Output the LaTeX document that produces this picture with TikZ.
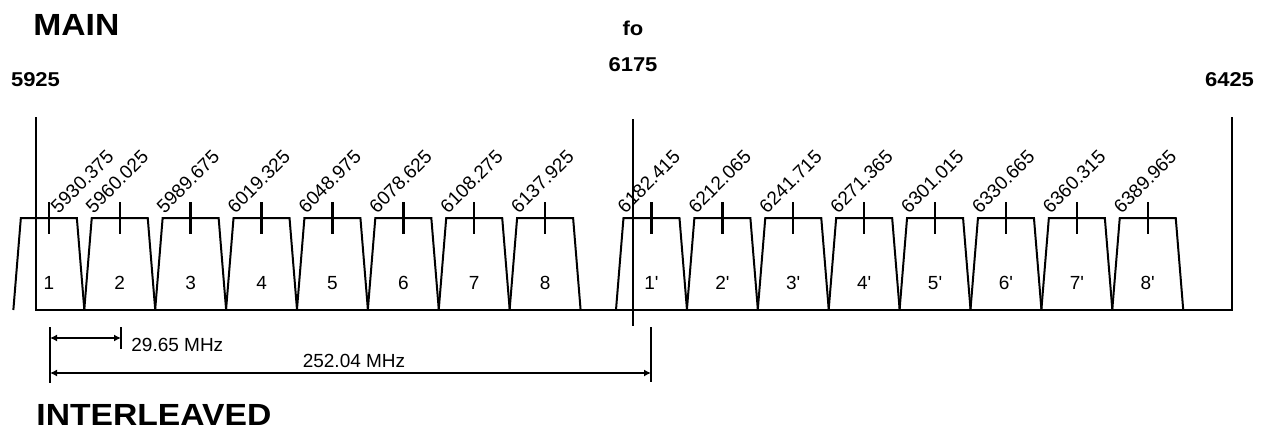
\documentclass[tikz,border=0pt]{standalone}
\usepackage{fontspec}
\setmainfont{Liberation Sans}
\newfontfamily\titlefont{Liberation Sans}[FakeStretch=1.1]
\usetikzlibrary{arrows.meta}

\begin{document}
\begin{tikzpicture}[x=0.5pt,y=-0.5pt,
  frame/.style={line width=1.3pt},
  chan/.style={line width=1pt, line join=miter},
  tick/.style={line width=1.2pt},
  dim/.style={line width=1.2pt, {Latex[length=3.5pt,width=3.5pt]}-{Latex[length=3.5pt,width=3.5pt]}},
  num/.style={font=\fontsize{9.5}{11}\selectfont, anchor=base, inner sep=0pt},
  freq/.style={font=\fontsize{9.5}{11}\selectfont, rotate=45, anchor=south west, inner sep=0pt},
  band/.style={font=\titlefont\bfseries\fontsize{10}{12}\selectfont, anchor=base, inner sep=0pt},
  title/.style={font=\titlefont\bfseries\fontsize{15.3}{18}\selectfont, anchor=base west, inner sep=0pt}]
\useasboundingbox (0,0) rectangle (1267,428);

% titles and band edges
\node[title] (main) at (33,35) {MAIN};
\node[title] (interleaved) at (36,425) {INTERLEAVED};
\node[band] (fo) at (633,35) {fo};
\node[band] (fmid) at (633,71) {6175};
\node[band] (flow) at (35.5,86) {5925};
\node[band] (fhigh) at (1229.5,86) {6425};

% channels
\foreach \f/\n [count=\i] in {5930.375/1, 5960.025/2, 5989.675/3, 6019.325/4,
    6048.975/5, 6078.625/6, 6108.275/7, 6137.925/8,
    6182.415/1\textquotesingle, 6212.065/2\textquotesingle,
    6241.715/3\textquotesingle, 6271.365/4\textquotesingle,
    6301.015/5\textquotesingle, 6330.665/6\textquotesingle,
    6360.315/7\textquotesingle, 6389.965/8\textquotesingle} {
  \pgfmathsetmacro\cx{36+(\f-5925)*2.391}
  \pgfmathsetmacro\lx{\i==1 ? \cx+10 : \cx-26}
  \draw[chan] (\cx-35.5,310) -- (\cx-28,218) -- (\cx+28,218) -- (\cx+35.5,310);
  \draw[tick] (\cx,202) -- (\cx,234);
  \node[num] (ch\i) at (\cx,289) {\n};
  \node[freq] (fr\i) at (\lx,215) {\f};
}

% band frame
\coordinate (lowtop) at (36,117);
\coordinate (lowbot) at (36,310);
\coordinate (hightop) at (1232,117);
\coordinate (highbot) at (1232,310);
\coordinate (midtop) at (633,119);
\coordinate (midbot) at (633,326);
\draw[frame] (lowtop) -- (lowbot) -- (highbot) -- (hightop);
\draw[frame] (midtop) -- (midbot);

% spacing dimensions
\coordinate (ext1a) at (50,327);
\coordinate (ext1b) at (50,383);
\coordinate (ext2a) at (121,327);
\coordinate (ext2b) at (121,349);
\coordinate (ext3a) at (651,327);
\coordinate (ext3b) at (651,382);
\draw[tick] (ext1a) -- (ext1b);
\draw[tick] (ext2a) -- (ext2b);
\draw[tick] (ext3a) -- (ext3b);
\coordinate (sp1) at (50,338);
\coordinate (sp2) at (121,338);
\coordinate (bw1) at (50,373);
\coordinate (bw2) at (651,373);
\draw[dim] (sp1) -- (sp2);
\draw[dim] (bw1) -- (bw2);
\node[num, anchor=base west] (spacing) at (131,351) {29.65 MHz};
\node[num] (bandwidth) at (354,367) {252.04 MHz};
\end{tikzpicture}
\end{document}
